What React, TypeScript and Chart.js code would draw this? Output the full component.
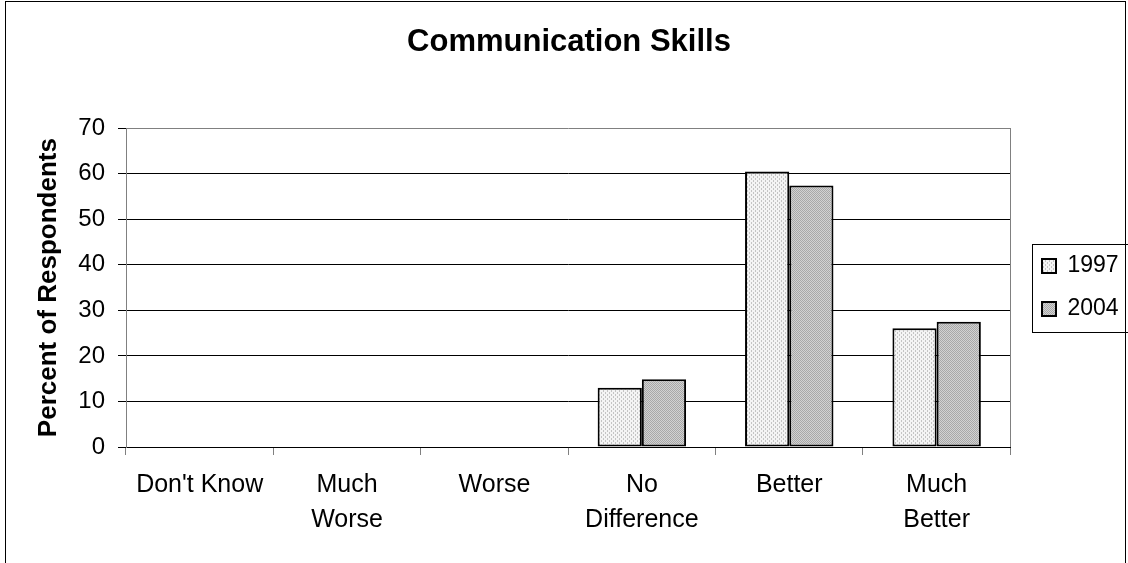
import React, { useEffect, useRef } from "react";
import { Chart, registerables } from "chart.js";

Chart.register(...registerables);

const chartTitle = "Communication Skills";
const yAxisTitle = "Percent of Respondents";
const categories: (string | string[])[] = [
  "Don't Know",
  ["Much", "Worse"],
  "Worse",
  ["No", "Difference"],
  "Better",
  ["Much", "Better"],
];
const seriesNames = ["1997", "2004"];
const values1997 = [0, 0, 0, 13.0, 60.5, 26.1];
const values2004 = [0, 0, 0, 14.9, 57.4, 27.5];
const yMin = 0;
const yMax = 70;
const yStep = 10;

const FONT = "'Liberation Sans', Arial, Helvetica, sans-serif";
const LEGEND_LEFT = 1022;

function makePattern(size: number, base: string, dots: [number, number, string][]) {
  const c = document.createElement("canvas");
  c.width = size;
  c.height = size;
  const g = c.getContext("2d")!;
  g.fillStyle = base;
  g.fillRect(0, 0, size, size);
  for (const [x, y, col] of dots) {
    g.fillStyle = col;
    g.fillRect(x, y, 1, 1);
  }
  const ctx = document.createElement("canvas").getContext("2d")!;
  return ctx.createPattern(c, "repeat")!;
}

const decorPlugin = {
  id: "decor",
  afterLayout(chart: any) {
    const lg = chart.legend;
    if (lg) {
      const shift = LEGEND_LEFT - lg.left;
      lg.left += shift;
      lg.right += shift;
    }
  },
  afterDraw(chart: any) {
    const ctx = chart.ctx as CanvasRenderingContext2D;
    const a = chart.chartArea;
    ctx.save();
    ctx.strokeStyle = "#808080";
    ctx.lineWidth = 1;
    const rx = Math.round(a.right) + 0.5;
    ctx.beginPath();
    ctx.moveTo(rx, Math.round(a.top));
    ctx.lineTo(rx, Math.round(a.bottom));
    ctx.stroke();
    const lg = chart.legend;
    if (lg && lg.legendHitBoxes && lg.legendHitBoxes.length) {
      const hbs = lg.legendHitBoxes;
      const l = Math.round(hbs[0].left - 10) + 0.5;
      const t = Math.round(hbs[0].top - 11) + 0.5;
      let r = 0;
      for (const h of hbs) r = Math.max(r, h.left + h.width);
      const last = hbs[hbs.length - 1];
      const b = Math.round(last.top + last.height + 11) + 0.5;
      ctx.strokeStyle = "#000";
      ctx.strokeRect(l, t, Math.round(r + 9) + 0.5 - l, b - t);
    }
    ctx.strokeStyle = "#000";
    ctx.strokeRect(5.5, 1.5, 1120, 700);
    ctx.restore();
  },
};

export default function App() {
  const ref = useRef<HTMLCanvasElement>(null);
  useEffect(() => {
    const canvas = ref.current!;
    const pat1997 = makePattern(4, "#f4f4f4", [
      [1, 0, "#c4c4c4"],
      [1, 1, "#c4c4c4"],
      [3, 2, "#c4c4c4"],
      [3, 3, "#c4c4c4"],
    ]);
    const pat2004 = makePattern(2, "#d2d2d2", [
      [0, 0, "#a8a8a8"],
      [1, 1, "#a8a8a8"],
    ]);
    const chart = new Chart(canvas, {
      type: "bar",
      data: {
        labels: categories,
        datasets: [
          {
            label: seriesNames[0],
            data: values1997,
            backgroundColor: pat1997 as any,
            borderColor: "#000",
            borderWidth: 2,
            borderSkipped: false,
            categoryPercentage: 0.6,
            barPercentage: 1.0,
          },
          {
            label: seriesNames[1],
            data: values2004,
            backgroundColor: pat2004 as any,
            borderColor: "#000",
            borderWidth: 2,
            borderSkipped: false,
            categoryPercentage: 0.6,
            barPercentage: 1.0,
          },
        ],
      },
      options: {
        responsive: false,
        animation: false,
        devicePixelRatio: 1,
        layout: { padding: { left: 21, right: 11, top: 0, bottom: 0 } },
        plugins: {
          title: {
            display: true,
            text: chartTitle,
            color: "#000",
            font: { family: FONT, size: 31, weight: "bold" },
            padding: { top: 24, bottom: 67 },
          },
          legend: {
            display: true,
            position: "right",
            fullSize: false,
            labels: {
              color: "#000",
              font: { family: FONT, size: 23 },
              boxWidth: 14,
              boxHeight: 14,
              padding: 20,
            },
          },
          tooltip: { enabled: false },
        },
        scales: {
          x: {
            afterFit: (s: any) => {
              s.height = 116;
            },
            grid: {
              display: true,
              offset: true,
              drawOnChartArea: false,
              drawTicks: true,
              tickLength: 8,
              tickColor: "#808080",
            },
            border: { display: true, color: "#000", width: 1 },
            ticks: {
              color: "#000",
              font: { family: FONT, size: 25, lineHeight: 1.4 },
              padding: 13,
              autoSkip: false,
              maxRotation: 0,
            },
          },
          y: {
            min: yMin,
            max: yMax,
            afterFit: (s: any) => {
              s.width = 105;
            },
            grid: {
              color: (c: any) => (c.tick && c.tick.value === yMax ? "#808080" : "#000"),
              tickColor: "#000",
              tickLength: 8,
              lineWidth: 1,
            },
            border: { display: true, color: "#808080", width: 1 },
            ticks: {
              stepSize: yStep,
              color: "#000",
              font: { family: FONT, size: 24 },
              padding: 13,
            },
            title: {
              display: true,
              text: yAxisTitle,
              color: "#000",
              font: { family: FONT, size: 26, weight: "bold" },
              padding: { top: 12, bottom: 0 },
            },
          },
        },
      },
      plugins: [decorPlugin],
    });
    return () => chart.destroy();
  }, []);
  return (
    <div style={{ position: "absolute", left: 0, top: 0, width: 1128, height: 563, background: "#fff", overflow: "hidden" }}>
      <canvas ref={ref} width={1128} height={563} style={{ display: "block" }} />
    </div>
  );
}
